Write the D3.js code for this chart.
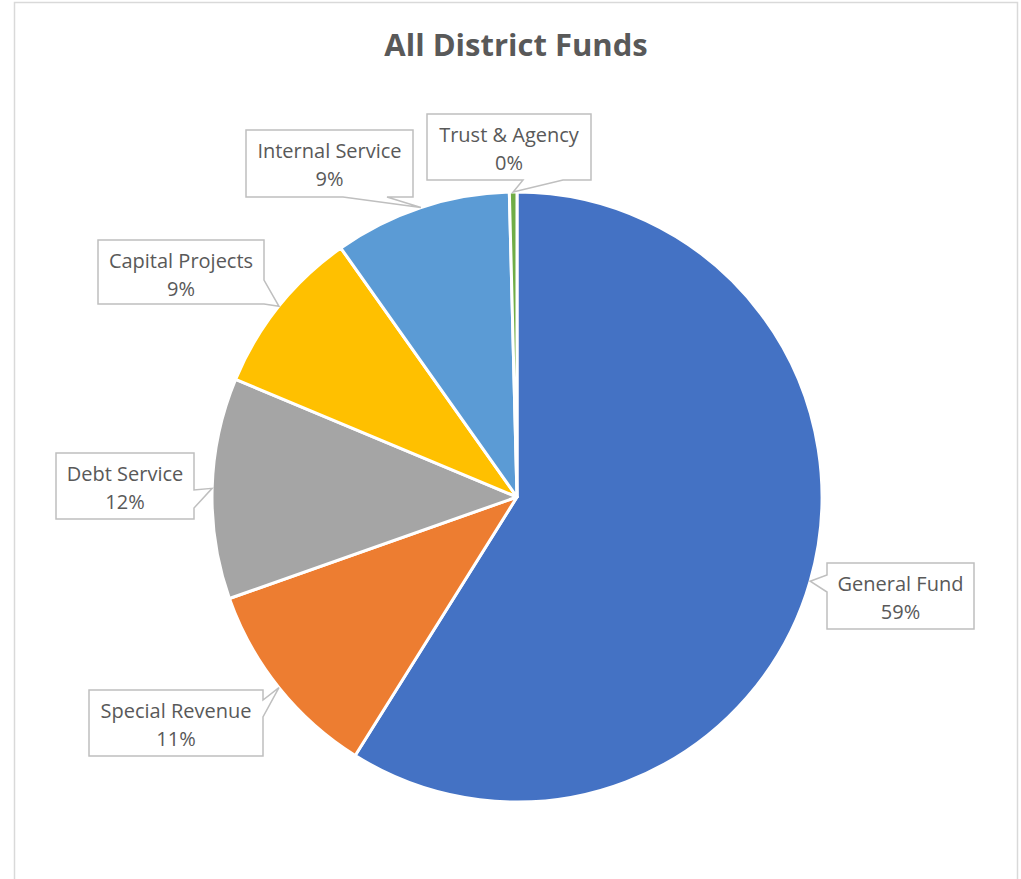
<!DOCTYPE html>
<html>
<head>
<meta charset="utf-8">
<script src="https://cdn.jsdelivr.net/npm/d3@7"></script>
<style>
  body { margin: 0; background: #fff; }
  text { font-family: "Open Sans", sans-serif; fill: #595959; }
</style>
</head>
<body>
<svg id="chart"></svg>
<script>
// data
const funds = ["General Fund", "Special Revenue", "Debt Service", "Capital Projects", "Internal Service", "Trust & Agency"];
const shares = [58.9, 10.7, 11.7, 8.9, 9.4, 0.4];
const colors = ["#4472C4", "#ED7D31", "#A5A5A5", "#FFC000", "#5B9BD5", "#70AD47"];

// label callout boxes (layout only), side = edge the pointer leaves from, b0/b1 = pointer base along that edge
const callouts = [
  {x: 827, y: 563, w: 147, h: 66, side: "left",   b0: 575, b1: 592},
  {x: 89,  y: 690, w: 174, h: 66, side: "right",  b0: 700, b1: 717},
  {x: 56,  y: 453, w: 138, h: 66, side: "right",  b0: 490, b1: 508},
  {x: 98,  y: 240, w: 166, h: 64, side: "right",  b0: 280, b1: 304},
  {x: 246, y: 130, w: 167, h: 67, side: "bottom", b0: 343, b1: 387},
  {x: 427, y: 114, w: 164, h: 66, side: "bottom", b0: 523, b1: 563}
];

const width = 1021, height = 879;
const cx = 517, cy = 497, radius = 305;

const svg = d3.select('#chart')
    .attr('width', width)
    .attr('height', height);

// chart area border
svg.append('rect')
    .attr('x', 14.5).attr('y', 2.5)
    .attr('width', 1003).attr('height', 920)
    .attr('fill', '#fff')
    .attr('stroke', '#d9d9d9')
    .attr('stroke-width', 1.5);

svg.append('text')
    .attr('x', 516).attr('y', 56)
    .attr('text-anchor', 'middle')
    .style('font-size', '31px')
    .style('font-weight', 'bold')
    .text('All District Funds');

const data = funds.map((f, i) => ({name: f, value: shares[i], color: colors[i], box: callouts[i]}));
const total = d3.sum(shares);

const pie = d3.pie().sort(null).value(d => d.value);
const arc = d3.arc().innerRadius(0).outerRadius(radius);
const edgeArc = d3.arc().innerRadius(radius).outerRadius(radius);

const g = svg.append('g').attr('transform', 'translate(' + cx + ',' + cy + ')');

const arcs = pie(data);

g.selectAll('path.slice')
    .data(arcs)
    .enter()
    .append('path')
    .attr('class', 'slice')
    .attr('d', arc)
    .attr('fill', d => d.data.color)
    .attr('stroke', '#fff')
    .attr('stroke-width', 3)
    .attr('stroke-linejoin', 'round');

// build callout outline with the wedge pointing to the slice edge
function calloutPath(b, tip) {
  const x0 = b.x, y0 = b.y, x1 = b.x + b.w, y1 = b.y + b.h;
  let pts;
  if (b.side === 'left') {
    pts = [[x0, y0], [x1, y0], [x1, y1], [x0, y1], [x0, b.b1], tip, [x0, b.b0]];
  } else if (b.side === 'right') {
    pts = [[x0, y0], [x1, y0], [x1, b.b0], tip, [x1, b.b1], [x1, y1], [x0, y1]];
  } else {
    pts = [[x0, y0], [x1, y0], [x1, y1], [b.b1, y1], tip, [b.b0, y1], [x0, y1]];
  }
  return 'M' + pts.map(p => p[0] + ',' + p[1]).join('L') + 'Z';
}

const labels = svg.selectAll('g.label')
    .data(arcs)
    .enter()
    .append('g')
    .attr('class', 'label');

labels.append('path')
    .attr('d', function(d) {
      const c = edgeArc.centroid(d);
      return calloutPath(d.data.box, [cx + c[0], cy + c[1]]);
    })
    .attr('fill', '#fff')
    .attr('stroke', '#bfbfbf')
    .attr('stroke-width', 1.5)
    .attr('stroke-linejoin', 'miter');

labels.append('text')
    .attr('x', d => d.data.box.x + d.data.box.w / 2)
    .attr('y', d => d.data.box.y + 27.5)
    .attr('text-anchor', 'middle')
    .style('font-size', '20px')
    .text(d => d.data.name);

labels.append('text')
    .attr('x', d => d.data.box.x + d.data.box.w / 2)
    .attr('y', d => d.data.box.y + 55.5)
    .attr('text-anchor', 'middle')
    .style('font-size', '20px')
    .text(d => Math.round(d.data.value / total * 100) + '%');
</script>
</body>
</html>
